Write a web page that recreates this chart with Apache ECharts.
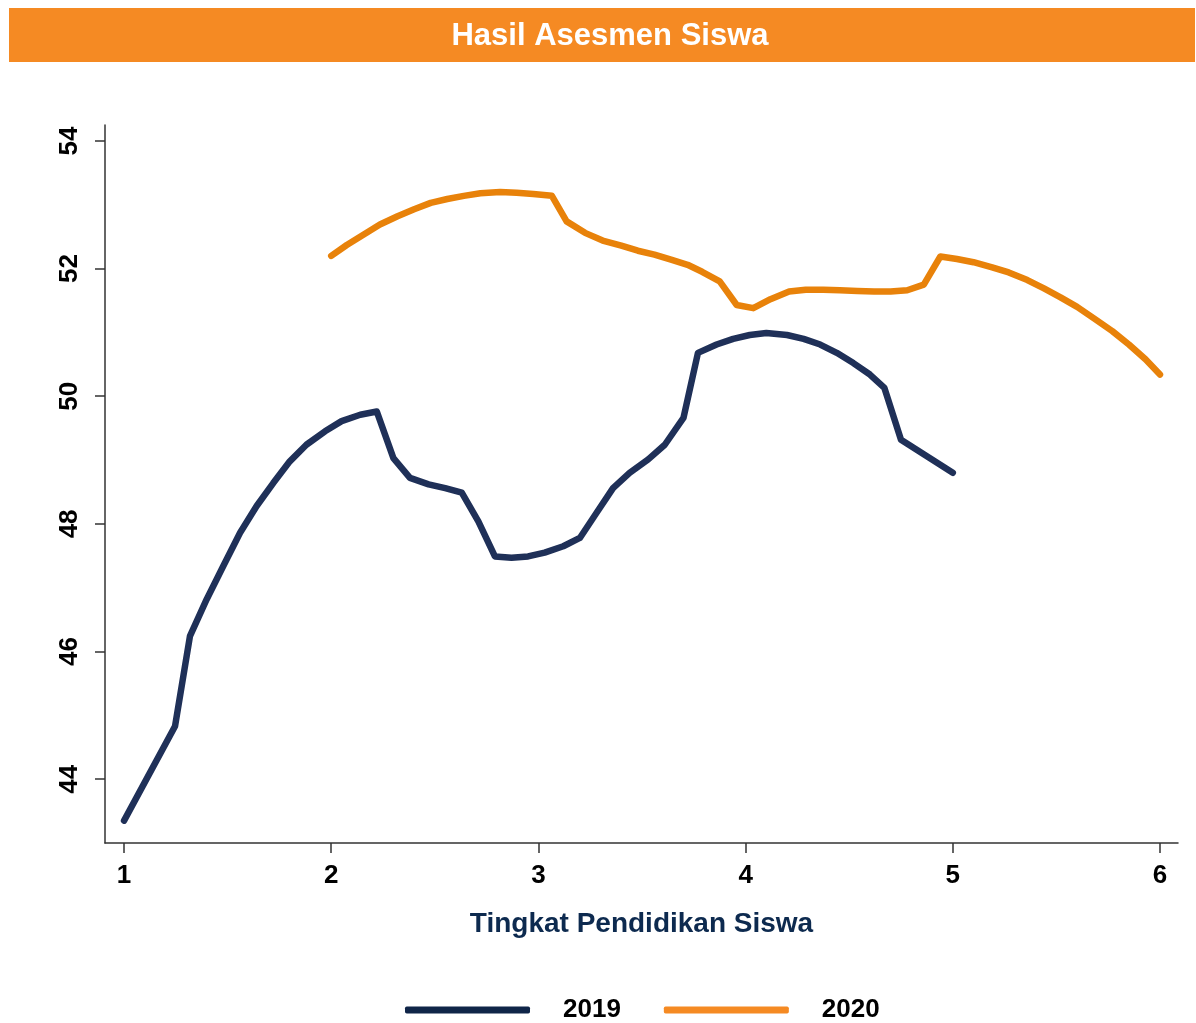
<!DOCTYPE html>
<html>
<head>
<meta charset="utf-8">
<script src="https://cdn.jsdelivr.net/npm/echarts@6/dist/echarts.min.js"></script>
<style>
  html, body { margin: 0; padding: 0; background: #fff; }
  #chart { width: 1196px; height: 1023px; }
</style>
</head>
<body>
<div id="chart"></div>
<script>
// data
var seriesNames = ['2019', '2020'];

var x2019 = [1.0, 1.246, 1.318, 1.399, 1.479, 1.56, 1.64, 1.72, 1.80, 1.88, 1.97, 2.05, 2.14, 2.22,
  2.30, 2.38, 2.47, 2.55, 2.63, 2.71, 2.79, 2.87, 2.95, 3.03, 3.12, 3.20, 3.28, 3.36, 3.44, 3.53,
  3.61, 3.70, 3.77, 3.86, 3.94, 4.02, 4.10, 4.20, 4.28, 4.36, 4.44, 4.52, 4.60, 4.67, 4.75, 5.0];
var y2019 = [43.35, 44.83, 46.24, 46.82, 47.34, 47.86, 48.28, 48.64, 48.98, 49.24, 49.45, 49.61, 49.71, 49.76,
  49.03, 48.72, 48.62, 48.56, 48.49, 48.04, 47.49, 47.47, 47.49, 47.55, 47.65, 47.78, 48.17, 48.56, 48.80, 49.01,
  49.24, 49.66, 50.68, 50.81, 50.90, 50.96, 50.99, 50.96, 50.90, 50.81, 50.68, 50.52, 50.34, 50.13, 49.32, 48.80];

var x2020 = [2.0, 2.075, 2.155, 2.235, 2.32, 2.40, 2.48, 2.56, 2.64, 2.72, 2.815, 2.895, 2.975, 3.065,
  3.136, 3.225, 3.31, 3.40, 3.48, 3.56, 3.64, 3.72, 3.79, 3.875, 3.957, 4.037, 4.12, 4.21, 4.29, 4.375,
  4.455, 4.54, 4.62, 4.70, 4.78, 4.86, 4.94, 5.02, 5.10, 5.19, 5.27, 5.36, 5.44, 5.52, 5.60, 5.69,
  5.77, 5.85, 5.93, 6.0];
var y2020 = [52.20, 52.37, 52.53, 52.69, 52.82, 52.93, 53.03, 53.09, 53.14, 53.18, 53.20, 53.19, 53.17, 53.14,
  52.74, 52.56, 52.44, 52.36, 52.28, 52.22, 52.14, 52.06, 51.95, 51.80, 51.43, 51.38, 51.52, 51.64, 51.67, 51.67,
  51.66, 51.65, 51.64, 51.64, 51.66, 51.75, 52.19, 52.15, 52.10, 52.02, 51.94, 51.82, 51.69, 51.55, 51.40, 51.20,
  51.02, 50.81, 50.58, 50.34];

var xTicks = [1, 2, 3, 4, 5, 6];
var yTicks = [44, 46, 48, 50, 52, 54];

function zip(xs, ys) {
  return xs.map(function (x, i) { return [x, ys[i]]; });
}

var font = '"Liberation Sans", Arial, sans-serif';
var axisColor = '#333';

var myChart = echarts.init(document.getElementById('chart'));

var option = {
  animation: false,
  textStyle: { fontFamily: font },
  graphic: [
    {
      type: 'rect',
      shape: { x: 9, y: 8, width: 1186, height: 54 },
      style: { fill: '#F58A23' }
    },
    {
      type: 'text',
      x: 610,
      y: 36,
      style: {
        text: 'Hasil Asesmen Siswa',
        fill: '#fff',
        font: 'bold 31px ' + font,
        textAlign: 'center',
        textVerticalAlign: 'middle'
      }
    }
  ],
  legend: {
    left: 400,
    top: 992,
    itemWidth: 125,
    itemHeight: 7,
    itemGap: 43,
    icon: 'roundRect',
    textStyle: {
      fontSize: 26,
      fontWeight: 'bold',
      color: '#000',
      fontFamily: font,
      padding: [0, 0, 0, 28]
    },
    data: [
      { name: '2019', itemStyle: { color: '#0f2548' } },
      { name: '2020', itemStyle: { color: '#F58A23' } }
    ]
  },
  grid: {
    left: 105,
    right: 18,
    top: 125,
    bottom: 180,
    containLabel: false
  },
  xAxis: {
    type: 'value',
    min: 0.908,
    max: 6.087,
    name: 'Tingkat Pendidikan Siswa',
    nameLocation: 'middle',
    nameGap: 67,
    nameTextStyle: {
      fontSize: 28,
      fontWeight: 'bold',
      color: '#0d2a4f',
      fontFamily: font
    },
    splitLine: { show: false },
    axisLine: { show: true, onZero: false, lineStyle: { color: axisColor, width: 1.5 } },
    axisTick: { show: true, length: 10, lineStyle: { color: axisColor, width: 1.5 }, customValues: xTicks },
    axisLabel: {
      customValues: xTicks,
      margin: 20,
      fontSize: 26,
      fontWeight: 'bold',
      color: '#000',
      fontFamily: font
    }
  },
  yAxis: {
    type: 'value',
    min: 43.0,
    max: 54.25,
    splitLine: { show: false },
    axisLine: { show: true, onZero: false, lineStyle: { color: axisColor, width: 1.5 } },
    axisTick: { show: true, length: 10, lineStyle: { color: axisColor, width: 1.5 }, customValues: yTicks },
    axisLabel: {
      customValues: yTicks,
      rotate: 90,
      margin: 22,
      fontSize: 26,
      fontWeight: 'bold',
      color: '#000',
      fontFamily: font
    }
  },
  series: [
    {
      name: seriesNames[0],
      type: 'line',
      data: zip(x2019, y2019),
      showSymbol: false,
      symbol: 'none',
      itemStyle: { color: '#0f2548' },
      lineStyle: { color: '#1F3058', width: 6.5, cap: 'round', join: 'round' }
    },
    {
      name: seriesNames[1],
      type: 'line',
      data: zip(x2020, y2020),
      showSymbol: false,
      symbol: 'none',
      itemStyle: { color: '#F58A23' },
      lineStyle: { color: '#E8820A', width: 6.5, cap: 'round', join: 'round' }
    }
  ]
};

myChart.setOption(option);
</script>
</body>
</html>
